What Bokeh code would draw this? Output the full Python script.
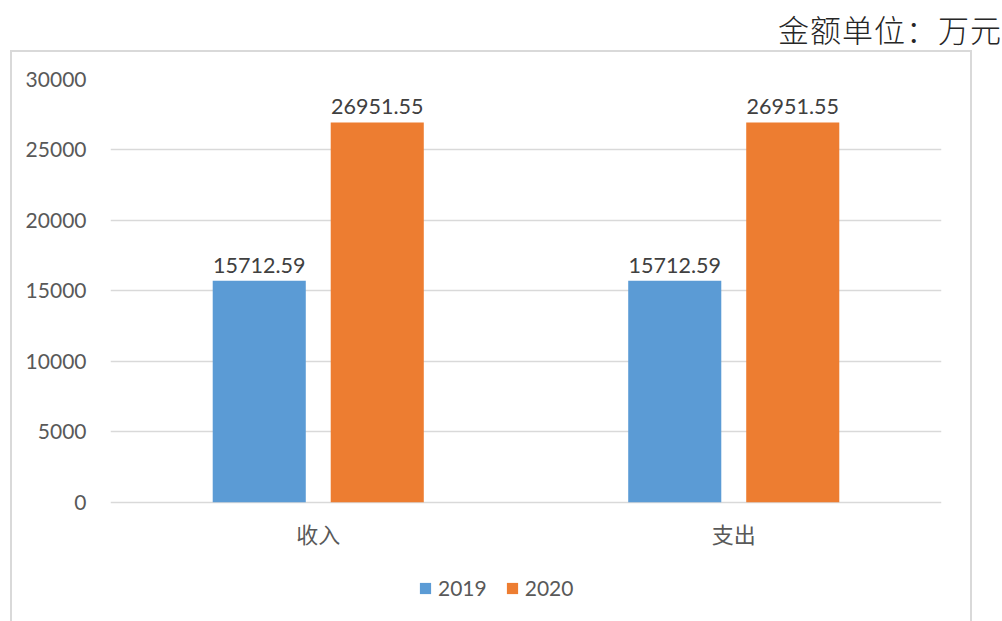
from bokeh.plotting import figure
from bokeh.models import ColumnDataSource, Legend, LegendItem, LabelSet, Div
from bokeh.layouts import column
from bokeh.transform import dodge
from bokeh.core.properties import value
from bokeh.embed import file_html
from bokeh.resources import INLINE

categories = ["收入", "支出"]
series_names = ["2019", "2020"]
values_2019 = [15712.59, 15712.59]
values_2020 = [26951.55, 26951.55]
y_ticks = [0, 5000, 10000, 15000, 20000, 25000, 30000]
unit_text = "金额单位：万元"

colors = ["#5B9BD5", "#ED7D31"]

# layout geometry (pixels in the page)
frame_top_px, zero_px, page_bottom = 80, 502, 623
y_max = 30000
y_min = -(page_bottom - zero_px) * y_max / (zero_px - frame_top_px)

src = ColumnDataSource(dict(
    cat=categories,
    v19=values_2019,
    v20=values_2020,
    l19=["%.2f" % v for v in values_2019],
    l20=["%.2f" % v for v in values_2020],
    zero=[0] * len(categories),
))

p = figure(width=962, height=571, x_range=categories, y_range=(y_min, y_max),
           output_backend="svg", toolbar_location=None,
           min_border_left=98, min_border_right=33,
           min_border_top=27, min_border_bottom=0,
           margin=(0, 0, 0, 10))
p.styles = {"border": "2px solid #D9D9D9", "border-bottom": "none", "box-sizing": "border-box"}
p.outline_line_color = None
p.background_fill_color = "white"
p.border_fill_color = "white"

off = 0.142
w = 0.224
r1 = p.vbar(x=dodge("cat", -off, range=p.x_range), top="v19", width=w, source=src,
            fill_color=colors[0], line_color=None)
r2 = p.vbar(x=dodge("cat", off, range=p.x_range), top="v20", width=w, source=src,
            fill_color=colors[1], line_color=None)

for col, lab, o in [("v19", "l19", -off), ("v20", "l20", off)]:
    p.add_layout(LabelSet(x=dodge("cat", o, range=p.x_range), y=col, text=lab, source=src,
                          text_align="center", text_baseline="bottom", y_offset=8,
                          text_font=value("Lato"), text_font_size="21.5px",
                          text_color="#404040"))

# category labels under the zero line
p.add_layout(LabelSet(x="cat", y="zero", text="cat", source=src,
                      text_align="center", text_baseline="middle", y_offset=-31,
                      text_font=value("Noto Sans CJK SC"), text_font_size="22px",
                      text_color="#595959"))

p.xaxis.visible = False
p.yaxis.ticker = y_ticks
p.yaxis.axis_line_color = None
p.yaxis.major_tick_line_color = None
p.yaxis.minor_tick_line_color = None
p.yaxis.major_label_text_font = "Lato"
p.yaxis.major_label_text_font_size = "21px"
p.yaxis.major_label_text_color = "#595959"
p.yaxis.major_label_standoff = 18

p.xgrid.grid_line_color = None
p.ygrid.ticker = y_ticks
p.ygrid.grid_line_color = "#D9D9D9"
p.ygrid.grid_line_width = 1.5

legend = Legend(items=[LegendItem(label=series_names[0], renderers=[r1]),
                       LegendItem(label=series_names[1], renderers=[r2])],
                orientation="horizontal", location=(308, 23),
                background_fill_alpha=0, border_line_color=None,
                label_text_font="Lato", label_text_font_size="21px",
                label_text_color="#595959", glyph_width=14, glyph_height=14,
                label_standoff=6, spacing=18, padding=0, margin=0)
p.add_layout(legend, "center")

title = Div(text=unit_text, width=1002, height=50, margin=(0, 0, 0, 0),
            styles={"text-align": "right", "font-family": "Noto Sans CJK SC",
                    "font-size": "31px", "font-weight": "300", "color": "#262626",
                    "line-height": "58px", "white-space": "nowrap",
                    "overflow": "visible", "letter-spacing": "1px"})

layout = column(title, p, spacing=0)

open("out.html", "w").write(file_html(layout, INLINE))
